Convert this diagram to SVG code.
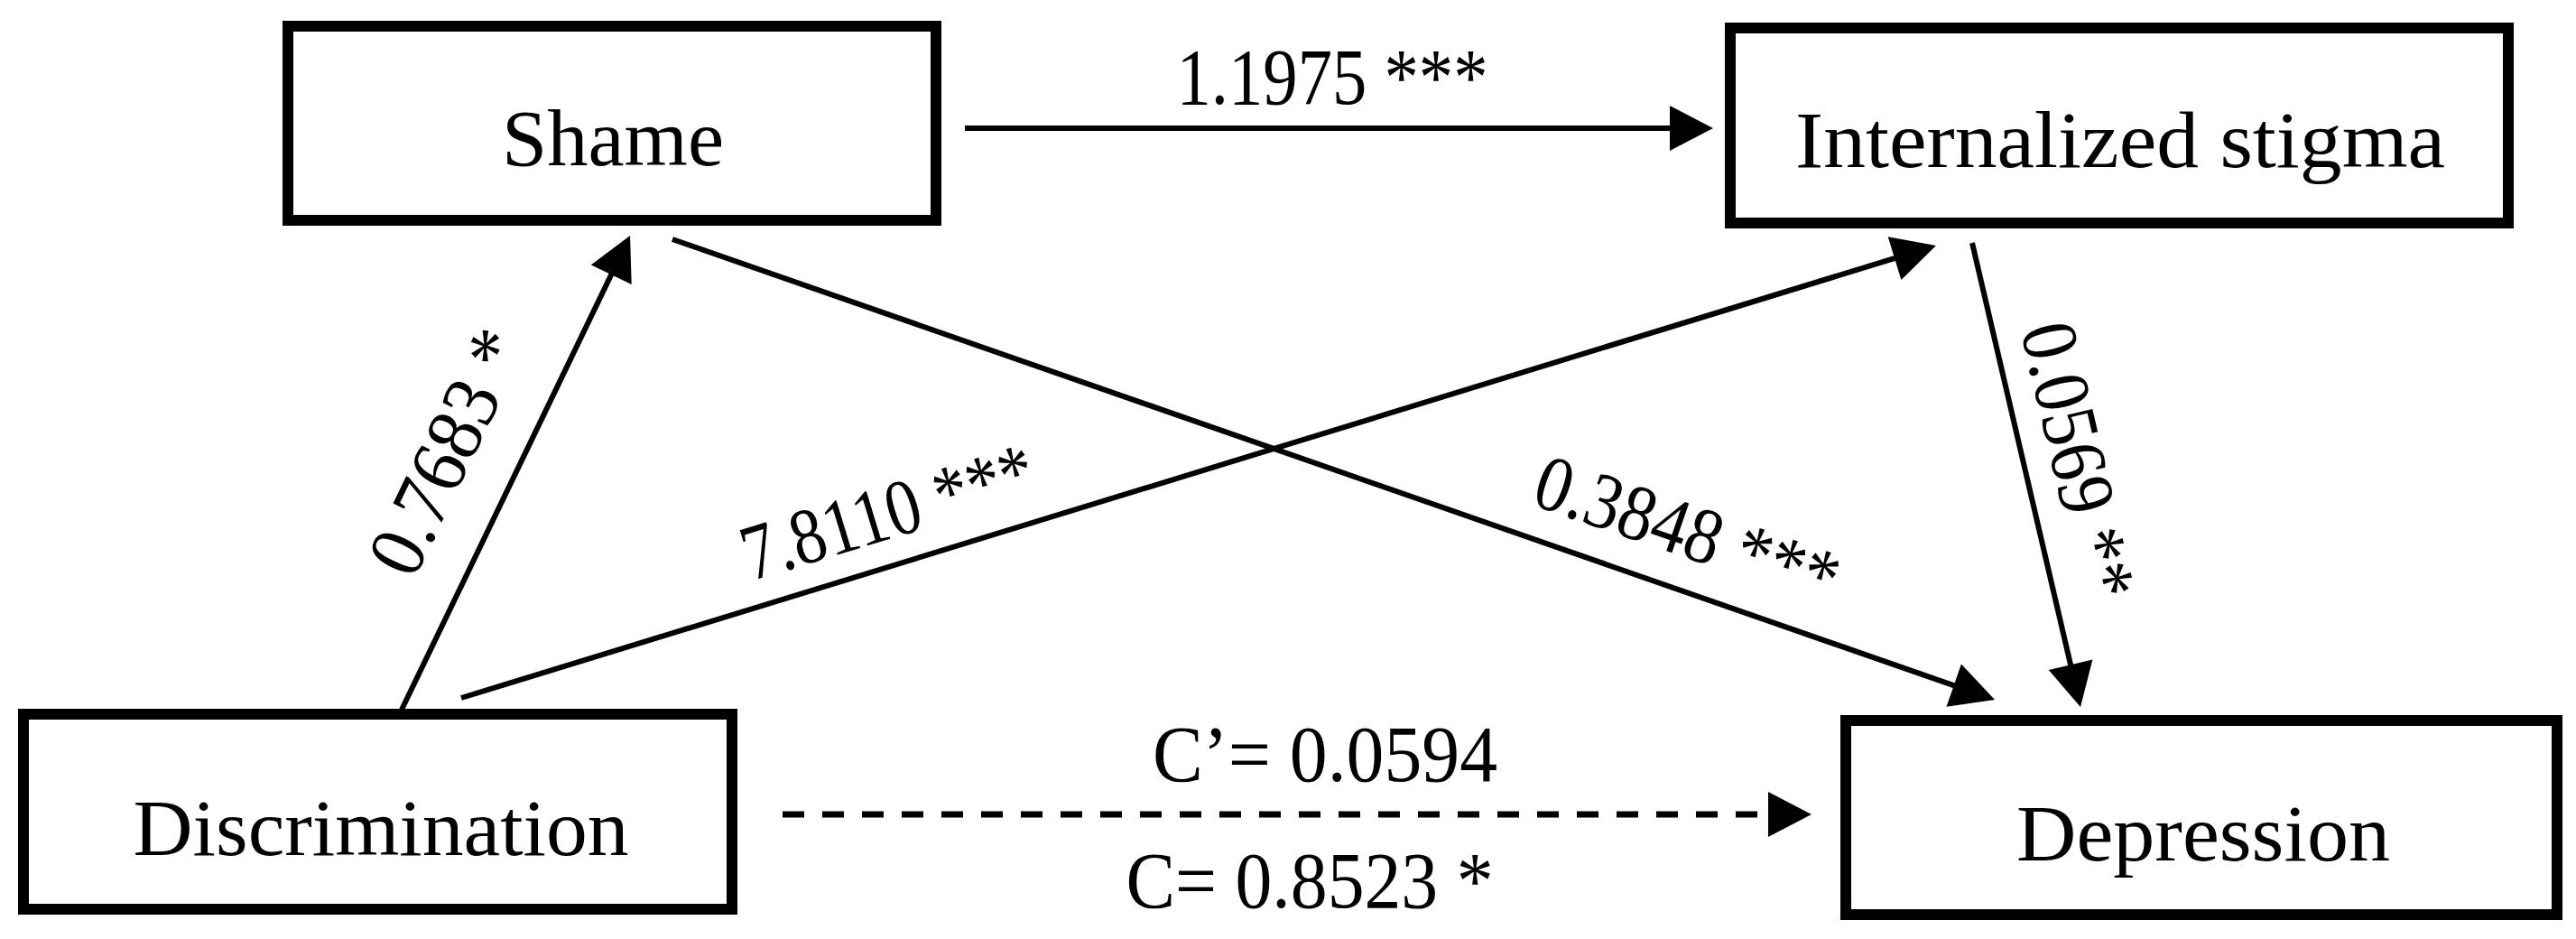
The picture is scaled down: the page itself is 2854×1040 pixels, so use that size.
<svg xmlns="http://www.w3.org/2000/svg" width="2854" height="1040" viewBox="0 0 2854 1040">
  <style>
    .box { fill: #ffffff; stroke: #000000; stroke-width: 12; }
    .lbl { font-family: "Liberation Serif", "Times New Roman", serif; font-size: 88px; fill: #000000; text-anchor: middle; }
    .edge { stroke: #000000; stroke-width: 6; fill: none; marker-end: url(#arrow); }
    .dash { stroke-dasharray: 24 20; stroke-width: 7; }
  </style>
  <defs>
    <marker id="arrow" markerUnits="userSpaceOnUse" markerWidth="50" markerHeight="50" viewBox="0 0 48 50" refX="38" refY="25" orient="auto">
      <path d="M0,0 L48,25 L0,50 Z" fill="#000000"/>
    </marker>
  </defs>
  <rect x="0" y="0" width="2854" height="1040" fill="#ffffff"/>

  <g id="connectors">
    <line class="edge" x1="1069" y1="142" x2="1888" y2="142"/>
    <line class="edge" x1="445" y1="786" x2="693.7" y2="270"/>
    <line class="edge" x1="511" y1="773" x2="2135.4" y2="274.9"/>
    <line class="edge" x1="745" y1="265" x2="2200.6" y2="771.7"/>
    <line class="edge" x1="2185" y1="269" x2="2302.7" y2="773.3"/>
    <line class="edge dash" x1="867" y1="902" x2="1997" y2="902"/>

    <text class="lbl" x="1476" y="115" textLength="345" lengthAdjust="spacingAndGlyphs">1.1975 ***</text>
    <text class="lbl" transform="translate(521,513) rotate(-64.2)" x="0" y="0" textLength="290" lengthAdjust="spacingAndGlyphs">0.7683 *</text>
    <text class="lbl" transform="translate(992,595) rotate(-16.9)" x="0" y="0" textLength="335" lengthAdjust="spacingAndGlyphs">7.8110 ***</text>
    <text class="lbl" transform="translate(1860,615) rotate(19)" x="0" y="0" textLength="350" lengthAdjust="spacingAndGlyphs">0.3848 ***</text>
    <text class="lbl" transform="translate(2274,517) rotate(76.8)" x="0" y="0" textLength="312" lengthAdjust="spacingAndGlyphs">0.0569 **</text>
    <text class="lbl" x="1468" y="865" textLength="382" lengthAdjust="spacingAndGlyphs">C’= 0.0594</text>
    <text class="lbl" x="1451" y="1005" textLength="407" lengthAdjust="spacingAndGlyphs">C= 0.8523 *</text>
  </g>

  <g id="node-shame">
    <rect class="box" x="319" y="29" width="718" height="215"/>
    <text class="lbl" x="679" y="183" textLength="246" lengthAdjust="spacingAndGlyphs">Shame</text>
  </g>
  <g id="node-internalized-stigma">
    <rect class="box" x="1917" y="31" width="862" height="216"/>
    <text class="lbl" x="2349" y="185" textLength="720" lengthAdjust="spacingAndGlyphs">Internalized stigma</text>
  </g>
  <g id="node-discrimination">
    <rect class="box" x="26" y="791" width="785" height="216"/>
    <text class="lbl" x="422" y="947" textLength="549" lengthAdjust="spacingAndGlyphs">Discrimination</text>
  </g>
  <g id="node-depression">
    <rect class="box" x="2045" y="798" width="788" height="215"/>
    <text class="lbl" x="2441" y="953" textLength="414" lengthAdjust="spacingAndGlyphs">Depression</text>
  </g>
</svg>
